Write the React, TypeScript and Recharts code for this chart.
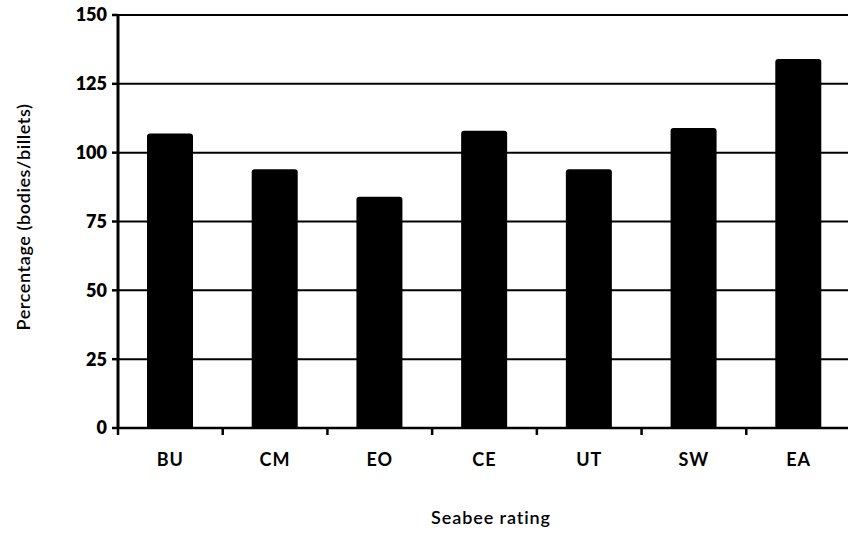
import { BarChart, Bar, XAxis, YAxis, CartesianGrid } from 'recharts';

const ratings = ['BU', 'CM', 'EO', 'CE', 'UT', 'SW', 'EA'];
const percentages = [107, 94, 84, 108, 94, 109, 134];
const yTicks = [0, 25, 50, 75, 100, 125, 150];

const data = ratings.map((rating, i) => ({ rating, pct: percentages[i] }));

const CHART_W = 860;
const CHART_H = 535;
const X_AXIS_H = 30;
const MARGIN = { top: 15, right: 9, bottom: 107 - X_AXIS_H, left: 0 };
const Y_AXIS_W = 118;
const BAND = (CHART_W - MARGIN.left - MARGIN.right - Y_AXIS_W) / ratings.length;

const font = "Lato, 'Open Sans', sans-serif";

function RatingTick(props: any) {
  const { x, y, payload } = props;
  const left = x - BAND / 2;
  return (
    <g>
      <line x1={left} y1={y - 8} x2={left} y2={y - 1} stroke="#000" strokeWidth={2.5} />
      <text
        x={x}
        y={y + 30}
        textAnchor="middle"
        fontFamily={font}
        fontWeight={700}
        fontSize={18}
        letterSpacing={1}
        fill="#000"
      >
        {payload.value}
      </text>
    </g>
  );
}

export default function App() {
  return (
    <div
      style={{
        position: 'absolute',
        left: 0,
        top: 0,
        width: 848,
        height: 535,
        overflow: 'hidden',
        background: '#fff',
      }}
    >
      <BarChart width={CHART_W} height={CHART_H} data={data} margin={MARGIN} barSize={46}>
        <CartesianGrid horizontal vertical={false} stroke="#000" strokeWidth={2} />
        <XAxis
          dataKey="rating"
          height={X_AXIS_H}
          tick={<RatingTick />}
          tickLine={false}
          axisLine={{ stroke: '#000', strokeWidth: 2.5 }}
          tickSize={6}
          label={{
            content: () => (
              <text
                x={491}
                y={524}
                textAnchor="middle"
                fontFamily={font}
                fontWeight={600}
                fontSize={18}
                letterSpacing={0.9}
                fill="#000"
              >
                Seabee rating
              </text>
            ),
          }}
        />
        <YAxis
          domain={[0, 150]}
          ticks={yTicks}
          width={Y_AXIS_W}
          interval={0}
          tickSize={6}
          tickMargin={5}
          axisLine={{ stroke: '#000', strokeWidth: 3 }}
          tickLine={{ stroke: '#000', strokeWidth: 2.5 }}
          tick={{ fontFamily: font, fontWeight: 800, fontSize: 18, fill: '#000' }}
          label={{
            content: () => (
              <text
                x={30}
                y={217}
                transform="rotate(-90 30 217)"
                textAnchor="middle"
                fontFamily={font}
                fontWeight={600}
                fontSize={18}
                letterSpacing={0.6}
                fill="#000"
              >
                Percentage (bodies/billets)
              </text>
            ),
          }}
        />
        <Bar dataKey="pct" fill="#000" radius={[3, 3, 0, 0]} isAnimationActive={false} />
      </BarChart>
    </div>
  );
}
